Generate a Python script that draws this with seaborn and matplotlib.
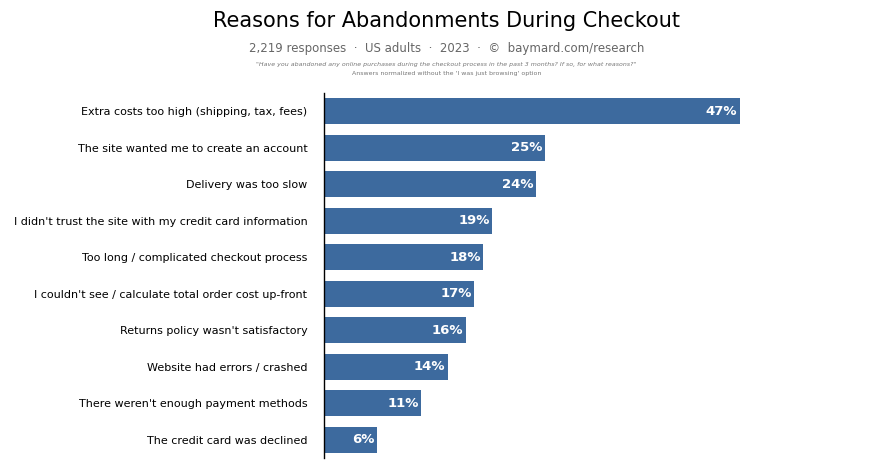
import pandas as pd
import matplotlib.pyplot as plt
import seaborn as sns

reasons = [
    "Extra costs too high (shipping, tax, fees)",
    "The site wanted me to create an account",
    "Delivery was too slow",
    "I didn't trust the site with my credit card information",
    "Too long / complicated checkout process",
    "I couldn't see / calculate total order cost up-front",
    "Returns policy wasn't satisfactory",
    "Website had errors / crashed",
    "There weren't enough payment methods",
    "The credit card was declined",
]
percents = [47, 25, 24, 19, 18, 17, 16, 14, 11, 6]

df = pd.DataFrame({"reason": reasons, "pct": percents})

fig = plt.figure(figsize=(8.93, 4.70), dpi=100)
ax = fig.add_axes([0.363, 0.0255, 0.495, 0.7765])

sns.barplot(data=df, x="pct", y="reason", color="#3d6a9e", saturation=1,
            width=0.72, ax=ax)

ax.set_xlim(0, 50)
ax.set_ylim(9.5, -0.5)
for i, v in enumerate(percents):
    ax.text(v - 0.3, i, f"{v}%", ha="right", va="center", color="white",
            fontsize=9.5, fontweight="bold")

for s in ["top", "right", "bottom"]:
    ax.spines[s].set_visible(False)
ax.spines["left"].set_linewidth(1.0)
ax.set_xticks([])
ax.tick_params(axis="y", length=0, pad=12, labelsize=8)
ax.set_xlabel("")
ax.set_ylabel("")

fig.text(0.5, 0.955, "Reasons for Abandonments During Checkout", ha="center",
         va="center", fontsize=15)
fig.text(0.5, 0.897, "2,219 responses  ·  US adults  ·  2023  ·  ©  baymard.com/research",
         ha="center", va="center", fontsize=8.5, color="#666666")
fig.text(0.5, 0.862, "\"Have you abandoned any online purchases during the checkout process in the past 3 months? If so, for what reasons?\"",
         ha="center", va="center", fontsize=4.5, style="italic", color="#777777")
fig.text(0.5, 0.843, "Answers normalized without the 'I was just browsing' option",
         ha="center", va="center", fontsize=4.5, color="#777777")

plt.savefig("out.png", dpi=100)
plt.close()
